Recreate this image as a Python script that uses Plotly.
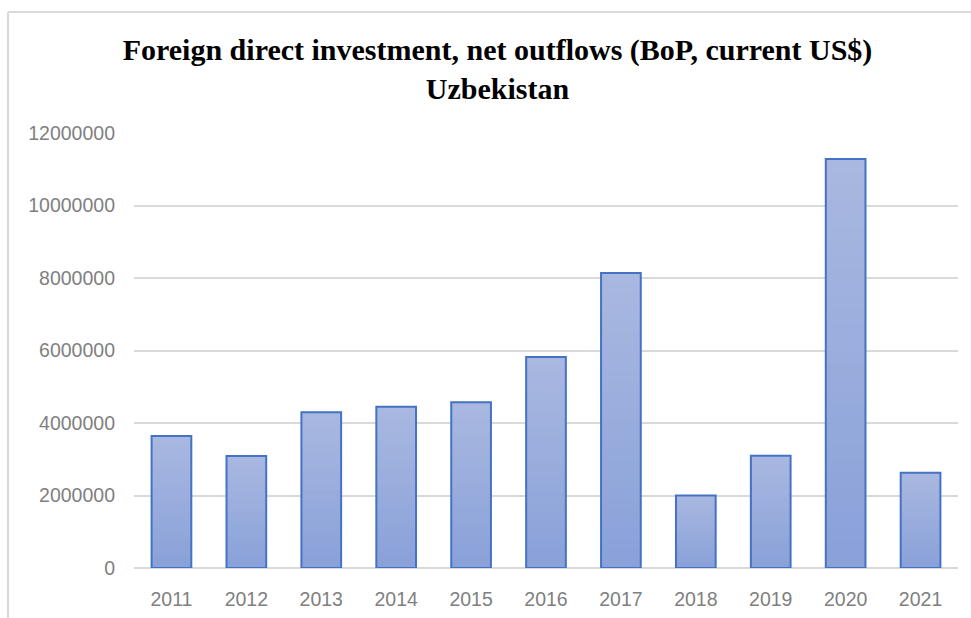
import plotly.graph_objects as go

# Foreign direct investment, net outflows (BoP, current US$) — Uzbekistan
years = ["2011", "2012", "2013", "2014", "2015", "2016",
         "2017", "2018", "2019", "2020", "2021"]
outflows = [3640000, 3090000, 4300000, 4450000, 4570000, 5820000,
            8140000, 2000000, 3100000, 11280000, 2630000]
y_ticks = [0, 2000000, 4000000, 6000000, 8000000, 10000000, 12000000]

W, H = 971, 618
M_L, M_R, M_T, M_B = 134, 13, 133, 50
PLOT_W = W - M_L - M_R
PLOT_H = H - M_T - M_B

BAR_W = 0.53
TOP_RGB = (169, 184, 224)     # lighter shade at the top of each bar
BOT_RGB = (137, 161, 217)     # deeper shade at the base
EDGE = "#4472C4"
N_STEPS = 30

fig = go.Figure()

# Vertical gradient fill: full-height bar first, then progressively shorter,
# darker bars drawn over it so each band keeps its own shade without seams
for k in range(N_STEPS):
    frac = (N_STEPS - k) / N_STEPS
    t = frac - 0.5 / N_STEPS
    rgb = tuple(round(b + (a - b) * t) for a, b in zip(TOP_RGB, BOT_RGB))
    fig.add_trace(go.Bar(
        x=years,
        y=[v * frac for v in outflows],
        width=BAR_W,
        marker=dict(color="rgb(%d,%d,%d)" % rgb, line=dict(width=0)),
        hoverinfo="skip",
        showlegend=False,
    ))

# Bar outlines
fig.add_trace(go.Bar(
    x=years,
    y=outflows,
    width=BAR_W,
    marker=dict(color="rgba(0,0,0,0)", line=dict(color=EDGE, width=2)),
    showlegend=False,
    name="FDI net outflows",
))


def px_x(px):
    return (px - M_L) / PLOT_W


def px_y(py):
    return (H - M_B - py) / PLOT_H


# Chart-area frame (top and left edges visible)
frame = dict(type="line", xref="paper", yref="paper",
             line=dict(color="#D9D9D9", width=2), layer="above")
fig.add_shape(**frame, x0=px_x(8), x1=px_x(W + 20), y0=px_y(12), y1=px_y(12))
fig.add_shape(**frame, x0=px_x(8), x1=px_x(8), y0=px_y(12), y1=px_y(H + 20))

fig.update_layout(
    width=W, height=H,
    margin=dict(l=M_L, r=M_R, t=M_T, b=M_B),
    paper_bgcolor="white",
    plot_bgcolor="white",
    barmode="overlay",
    title=dict(
        text="Foreign direct investment, net outflows (BoP, current US$)<br>Uzbekistan",
        font=dict(family="Liberation Serif, Times New Roman, serif",
                  size=30, color="black", weight="bold"),
        xref="container", x=497.5 / W, xanchor="center",
        yref="container", y=1 - 60 / H, yanchor="top",
    ),
    xaxis=dict(
        type="category",
        automargin=False,
        showgrid=False,
        showline=False,
        ticks="",
        ticklabelstandoff=17,
        tickfont=dict(family="Liberation Sans, Arial, sans-serif",
                      size=19.5, color="#7F7F7F"),
    ),
    yaxis=dict(
        automargin=False,
        range=[0, 12000000],
        tickvals=y_ticks,
        ticktext=[str(v) for v in y_ticks],
        showgrid=True,
        gridcolor="#D9D9D9",
        gridwidth=2,
        zeroline=True,
        zerolinecolor="#D9D9D9",
        zerolinewidth=2,
        showline=False,
        ticks="",
        ticklabelstandoff=18,
        tickfont=dict(family="Liberation Sans, Arial, sans-serif",
                      size=19.5, color="#7F7F7F"),
    ),
)

fig.write_html("out.html")
